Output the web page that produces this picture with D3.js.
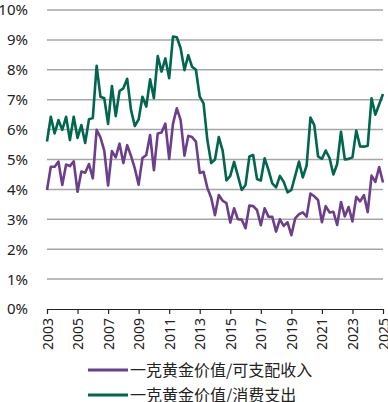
<!DOCTYPE html>
<html><head><meta charset="utf-8">
<script src="https://cdn.jsdelivr.net/npm/d3@7"></script>
<style>body{margin:0;background:#fff;}svg{display:block;}</style>
</head><body>
<svg id="c" width="388" height="402"></svg>
<script>
const startYear = 2003;
const yTicks = [0,1,2,3,4,5,6,7,8,9,10];
const xTicks = [2003,2005,2007,2009,2011,2013,2015,2017,2019,2021,2023,2025];
const seriesNames = ["一克黄金价值/可支配收入","一克黄金价值/消费支出"];
const seriesColors = ["#6B3F8C","#00664F"];
// quarterly values, 2003Q1 - 2025Q1 (%)
const incomeRatio = [3.98,4.76,4.76,4.93,4.15,4.83,4.78,4.94,3.92,4.6,4.56,4.85,4.37,5.99,5.74,5.3,4.13,5.28,5.07,5.53,4.88,5.48,5.12,4.7,4.16,5.05,5.15,5.82,4.64,5.87,5.9,6.2,5.02,6.2,6.71,6.32,5.13,5.79,5.75,5.6,4.55,4.59,4.05,3.72,3.14,3.81,3.62,3.54,2.89,3.37,3.0,2.99,2.7,3.46,3.44,3.31,2.8,3.37,3.09,3.08,2.59,3.0,2.78,2.9,2.47,3.03,3.17,3.23,3.09,3.86,3.77,3.64,2.9,3.44,3.23,3.25,2.81,3.58,3.1,3.41,2.93,3.75,3.6,3.81,3.24,4.46,4.25,4.75,4.23];
const spendRatio = [5.6,6.43,5.87,6.32,5.99,6.43,5.65,6.43,5.72,6.15,5.55,6.35,6.39,8.13,7.1,7.05,6.19,7.46,6.45,7.29,7.38,7.7,6.66,6.12,6.34,7.1,6.77,7.68,7.05,8.46,7.94,8.38,7.72,9.11,9.09,8.72,7.99,8.49,8.1,8.0,7.1,6.88,5.65,4.88,5.0,5.75,5.3,4.3,4.45,4.92,4.45,3.98,4.15,5.1,5.15,4.35,4.3,5.04,4.65,4.2,4.07,4.45,4.25,3.9,3.98,4.45,4.93,4.4,4.8,6.4,6.15,5.1,5.02,5.3,5.05,4.5,4.85,5.93,5.0,5.02,5.07,5.97,5.44,5.43,5.46,7.05,6.5,6.85,7.19];

const svg = d3.select("#c");
const x = d3.scaleLinear().domain([2003, 2025]).range([47, 383]);
const y = d3.scaleLinear().domain([0, 10]).range([309, 10]);
const font = "'Noto Sans','Open Sans',sans-serif";

// gridlines
svg.append("g").selectAll("line").data(yTicks.filter(d=>d>0)).join("line")
  .attr("x1", x(2003)).attr("x2", x(2025))
  .attr("y1", d=>y(d)).attr("y2", d=>y(d))
  .attr("stroke", "#a6a6a6").attr("stroke-width", 1.5);

// y labels
svg.append("g").selectAll("text").data(yTicks).join("text")
  .attr("x", 28).attr("y", d=>y(d)).attr("dy", "0.36em")
  .attr("text-anchor", "end").attr("font-family", font).attr("font-size", 15)
  .attr("fill", "#222").text(d=>d+"%");

// x axis
const xAxis = d3.axisBottom(x).tickValues(xTicks).tickFormat(d3.format("d")).tickSize(5).tickSizeOuter(0);
const gx = svg.append("g").attr("transform", `translate(0,${y(0)})`).call(xAxis);
gx.select(".domain").attr("stroke", "#222").attr("stroke-width", 1.2);
gx.selectAll(".tick line").attr("stroke", "#222").attr("stroke-width", 1.2);
gx.selectAll(".tick text")
  .attr("font-family", font).attr("font-size", 14).attr("fill", "#222")
  .attr("transform", "rotate(-90)")
  .attr("text-anchor", "end").attr("x", -9).attr("y", 0).attr("dy", "0.36em");

// lines
const line = d3.line().x((d,i)=>x(startYear + i/4)).y(d=>y(d));
[incomeRatio, spendRatio].forEach((s, k) => {
  svg.append("path").datum(s).attr("d", line)
    .attr("fill", "none").attr("stroke", seriesColors[k])
    .attr("stroke-width", 2.6).attr("stroke-linejoin", "round");
});

// legend
const lg = svg.append("g");
seriesNames.forEach((n, k) => {
  const ly = 370 + k*25;
  lg.append("line").attr("x1", 88).attr("x2", 128).attr("y1", ly).attr("y2", ly)
    .attr("stroke", seriesColors[k]).attr("stroke-width", 3);
  lg.append("text").attr("x", 130).attr("y", ly).attr("dy", "0.36em")
    .attr("font-family", "'Noto Sans CJK SC',sans-serif").attr("font-size", 16)
    .attr("fill", "#222").text(n);
});
</script>
</body></html>
